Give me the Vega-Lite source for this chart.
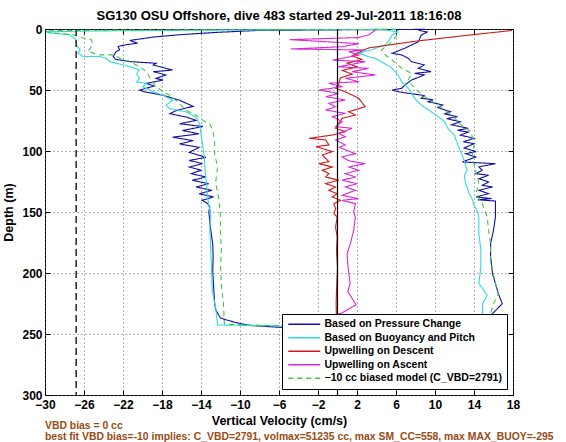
{
"$schema":"https://vega.github.io/schema/vega-lite/v6.json",
"width":468,"height":366,
"autosize":{"type":"none"},
"padding":{"left":45,"top":29,"right":53,"bottom":47},
"background":"white",
"title":{"text":"SG130 OSU Offshore, dive 483 started 29-Jul-2011 18:16:08","font":"Liberation Sans","fontSize":13,"fontWeight":"bold","color":"black","anchor":"middle","baseline":"alphabetic","offset":-10},
"config":{"view":{"stroke":"black","strokeWidth":1},
"axis":{"labelFont":"Liberation Sans","titleFont":"Liberation Sans","labelFontWeight":"bold","titleFontWeight":"bold","labelColor":"black","titleColor":"black","tickColor":"black","domain":false,"labelFontSize":12,"titleFontSize":12.5,"labelOverlap":false,"labelFlush":false}},
"datasets":{
"curves":[
{"s":"P","i":0,"v":9,"d":0.3},{"s":"P","i":1,"v":2,"d":0.6},{"s":"P","i":2,"v":-8,"d":1.1},{"s":"P","i":3,"v":-12.45,"d":2.8},{"s":"P","i":4,"v":-16.2,"d":4.7},{"s":"P","i":5,"v":-18.9,"d":6.6},{"s":"P","i":6,"v":-21.3,"d":9.4},{"s":"P","i":7,"v":-20.5,"d":11.6},{"s":"P","i":8,"v":-21.7,"d":12.9},{"s":"P","i":9,"v":-22.5,"d":14.3},{"s":"P","i":10,"v":-22.35,"d":17.1},{"s":"P","i":11,"v":-22.7,"d":18.5},{"s":"P","i":12,"v":-23.0,"d":22.6},{"s":"P","i":13,"v":-22.75,"d":24.8},{"s":"P","i":14,"v":-21.3,"d":26.7},{"s":"P","i":15,"v":-18.6,"d":28.1},{"s":"P","i":16,"v":-18.9,"d":29.5},{"s":"P","i":17,"v":-16.9,"d":33.6},{"s":"P","i":18,"v":-18.9,"d":35},{"s":"P","i":19,"v":-17.6,"d":37.7},{"s":"P","i":20,"v":-18.6,"d":40.5},{"s":"P","i":21,"v":-17.9,"d":41.9},{"s":"P","i":22,"v":-19.6,"d":44.6},{"s":"P","i":23,"v":-18.8,"d":46.8},{"s":"P","i":24,"v":-20.3,"d":50.1},{"s":"P","i":25,"v":-19.8,"d":51.5},{"s":"P","i":26,"v":-17.9,"d":54.3},{"s":"P","i":27,"v":-16.2,"d":58.4},{"s":"P","i":28,"v":-14.8,"d":63.4},{"s":"P","i":29,"v":-16.5,"d":66.7},{"s":"P","i":30,"v":-17.2,"d":69.4},{"s":"P","i":31,"v":-15.5,"d":72.2},{"s":"P","i":32,"v":-14.5,"d":74.9},{"s":"P","i":33,"v":-16.2,"d":77.7},{"s":"P","i":34,"v":-13.8,"d":79.9},{"s":"P","i":35,"v":-15.9,"d":83.2},{"s":"P","i":36,"v":-14.2,"d":85.9},{"s":"P","i":37,"v":-16.9,"d":88.7},{"s":"P","i":38,"v":-14.8,"d":91.5},{"s":"P","i":39,"v":-16.2,"d":94.2},{"s":"P","i":40,"v":-14.2,"d":97},{"s":"P","i":41,"v":-15.2,"d":101.1},{"s":"P","i":42,"v":-13.5,"d":105.2},{"s":"P","i":43,"v":-15.2,"d":107.7},{"s":"P","i":44,"v":-13.85,"d":110.4},{"s":"P","i":45,"v":-15.2,"d":113.1},{"s":"P","i":46,"v":-14.0,"d":115.8},{"s":"P","i":47,"v":-15.0,"d":118.6},{"s":"P","i":48,"v":-13.5,"d":121.3},{"s":"P","i":49,"v":-14.9,"d":124},{"s":"P","i":50,"v":-13.2,"d":126.8},{"s":"P","i":51,"v":-14.5,"d":129.5},{"s":"P","i":52,"v":-12.9,"d":132.2},{"s":"P","i":53,"v":-14.2,"d":135},{"s":"P","i":54,"v":-12.7,"d":137.7},{"s":"P","i":55,"v":-13.9,"d":140.4},{"s":"P","i":56,"v":-13.3,"d":143.2},{"s":"P","i":57,"v":-13.1,"d":145.9},{"s":"P","i":58,"v":-13.2,"d":150},{"s":"P","i":59,"v":-13.0,"d":165},{"s":"P","i":60,"v":-12.8,"d":176},{"s":"P","i":61,"v":-12.75,"d":187},{"s":"P","i":62,"v":-12.8,"d":198},{"s":"P","i":63,"v":-12.7,"d":211.5},{"s":"P","i":64,"v":-12.6,"d":225},{"s":"P","i":65,"v":-12.5,"d":230},{"s":"P","i":66,"v":-12.0,"d":237},{"s":"P","i":67,"v":-10.5,"d":240.5},{"s":"P","i":68,"v":-9,"d":243},{"s":"P","i":69,"v":-6,"d":244.5},{"s":"P","i":70,"v":-2,"d":245.5},{"s":"P","i":71,"v":8,"d":246},{"s":"P","i":72,"v":16,"d":245},{"s":"P","i":73,"v":16.5,"d":240},{"s":"P","i":74,"v":15.9,"d":233.3},{"s":"P","i":75,"v":16.9,"d":225.1},{"s":"P","i":76,"v":16.5,"d":217},{"s":"P","i":77,"v":16.2,"d":208.7},{"s":"P","i":78,"v":15.9,"d":200.5},{"s":"P","i":79,"v":15.7,"d":186.9},{"s":"P","i":80,"v":15.7,"d":176},{"s":"P","i":81,"v":16.0,"d":165},{"s":"P","i":82,"v":16.2,"d":154.1},{"s":"P","i":83,"v":16.2,"d":141},{"s":"P","i":84,"v":14.4,"d":140},{"s":"P","i":85,"v":15.8,"d":139},{"s":"P","i":86,"v":14.2,"d":137.7},{"s":"P","i":87,"v":15.5,"d":135},{"s":"P","i":88,"v":14.5,"d":132.2},{"s":"P","i":89,"v":15.9,"d":129.5},{"s":"P","i":90,"v":14.85,"d":128.1},{"s":"P","i":91,"v":15.5,"d":125.4},{"s":"P","i":92,"v":14.5,"d":122.7},{"s":"P","i":93,"v":15.5,"d":119.9},{"s":"P","i":94,"v":14.17,"d":118.6},{"s":"P","i":95,"v":14.85,"d":115.8},{"s":"P","i":96,"v":14.5,"d":113},{"s":"P","i":97,"v":16.2,"d":110.4},{"s":"P","i":98,"v":12.8,"d":109},{"s":"P","i":99,"v":14.17,"d":104.9},{"s":"P","i":100,"v":13.15,"d":102.2},{"s":"P","i":101,"v":14.2,"d":100.5},{"s":"P","i":102,"v":13.0,"d":97.5},{"s":"P","i":103,"v":14.0,"d":94},{"s":"P","i":104,"v":12.9,"d":92.4},{"s":"P","i":105,"v":14.0,"d":89.6},{"s":"P","i":106,"v":12.6,"d":87},{"s":"P","i":107,"v":13.4,"d":84.5},{"s":"P","i":108,"v":12.3,"d":83},{"s":"P","i":109,"v":13.4,"d":81.4},{"s":"P","i":110,"v":11.7,"d":78.5},{"s":"P","i":111,"v":12.6,"d":76},{"s":"P","i":112,"v":11.2,"d":73.5},{"s":"P","i":113,"v":12.3,"d":71.9},{"s":"P","i":114,"v":11.0,"d":69.5},{"s":"P","i":115,"v":11.6,"d":67.8},{"s":"P","i":116,"v":10.3,"d":64.5},{"s":"P","i":117,"v":10.8,"d":62.3},{"s":"P","i":118,"v":9.3,"d":59.6},{"s":"P","i":119,"v":9.8,"d":58},{"s":"P","i":120,"v":8.6,"d":56.8},{"s":"P","i":121,"v":8.9,"d":54.5},{"s":"P","i":122,"v":7.25,"d":52.7},{"s":"P","i":123,"v":6.2,"d":51.4},{"s":"P","i":124,"v":5.6,"d":50},{"s":"P","i":125,"v":6.6,"d":48.6},{"s":"P","i":126,"v":6.9,"d":45.9},{"s":"P","i":127,"v":7.6,"d":41.8},{"s":"P","i":128,"v":8.9,"d":37.7},{"s":"P","i":129,"v":7.9,"d":36.3},{"s":"P","i":130,"v":9.6,"d":35},{"s":"P","i":131,"v":8.3,"d":32.2},{"s":"P","i":132,"v":8.9,"d":29.5},{"s":"P","i":133,"v":7.6,"d":26.8},{"s":"P","i":134,"v":7.25,"d":24},{"s":"P","i":135,"v":6.6,"d":21.3},{"s":"P","i":136,"v":5.6,"d":19.9},{"s":"P","i":137,"v":6.9,"d":15.8},{"s":"P","i":138,"v":8.3,"d":10.4},{"s":"P","i":139,"v":8.6,"d":4.9},{"s":"P","i":140,"v":9.2,"d":2.5},{"s":"P","i":141,"v":8.3,"d":1.0},
{"s":"B","i":0,"v":5,"d":0.3},{"s":"B","i":1,"v":-5,"d":0.6},{"s":"B","i":2,"v":-15,"d":1.0},{"s":"B","i":3,"v":-25,"d":1.6},{"s":"B","i":4,"v":-29.9,"d":2.3},{"s":"B","i":5,"v":-29.5,"d":3.3},{"s":"B","i":6,"v":-27.5,"d":4.7},{"s":"B","i":7,"v":-26.8,"d":8.8},{"s":"B","i":8,"v":-26.8,"d":12.9},{"s":"B","i":9,"v":-26.4,"d":17.1},{"s":"B","i":10,"v":-26.6,"d":19.8},{"s":"B","i":11,"v":-26.1,"d":22.6},{"s":"B","i":12,"v":-24.4,"d":22.6},{"s":"B","i":13,"v":-23.7,"d":24},{"s":"B","i":14,"v":-23.4,"d":26.7},{"s":"B","i":15,"v":-22.7,"d":28.1},{"s":"B","i":16,"v":-21.3,"d":30.9},{"s":"B","i":17,"v":-20.3,"d":33.6},{"s":"B","i":18,"v":-20.6,"d":36.4},{"s":"B","i":19,"v":-20.3,"d":40.5},{"s":"B","i":20,"v":-20.6,"d":43.3},{"s":"B","i":21,"v":-19.6,"d":44.6},{"s":"B","i":22,"v":-19.95,"d":47.4},{"s":"B","i":23,"v":-18.9,"d":51.5},{"s":"B","i":24,"v":-17.9,"d":54.3},{"s":"B","i":25,"v":-16.9,"d":58.4},{"s":"B","i":26,"v":-17.6,"d":62.5},{"s":"B","i":27,"v":-17.2,"d":65.3},{"s":"B","i":28,"v":-15.5,"d":68},{"s":"B","i":29,"v":-14.5,"d":72.2},{"s":"B","i":30,"v":-14.15,"d":77.7},{"s":"B","i":31,"v":-14.0,"d":85.9},{"s":"B","i":32,"v":-13.8,"d":97},{"s":"B","i":33,"v":-13.65,"d":105.2},{"s":"B","i":34,"v":-13.6,"d":115},{"s":"B","i":35,"v":-13.45,"d":125},{"s":"B","i":36,"v":-13.35,"d":135},{"s":"B","i":37,"v":-13.2,"d":145},{"s":"B","i":38,"v":-13.0,"d":150},{"s":"B","i":39,"v":-13.1,"d":165},{"s":"B","i":40,"v":-13.0,"d":180},{"s":"B","i":41,"v":-12.9,"d":200},{"s":"B","i":42,"v":-12.85,"d":215},{"s":"B","i":43,"v":-12.5,"d":228},{"s":"B","i":44,"v":-12.3,"d":242.6},{"s":"B","i":45,"v":-5,"d":243.5},{"s":"B","i":46,"v":5,"d":244},{"s":"B","i":47,"v":14.85,"d":244},{"s":"B","i":48,"v":14.85,"d":233.3},{"s":"B","i":49,"v":14.9,"d":225},{"s":"B","i":50,"v":15.35,"d":218.3},{"s":"B","i":51,"v":15.0,"d":214.2},{"s":"B","i":52,"v":14.5,"d":208.7},{"s":"B","i":53,"v":14.7,"d":195.1},{"s":"B","i":54,"v":14.7,"d":181.4},{"s":"B","i":55,"v":14.5,"d":167.8},{"s":"B","i":56,"v":14.5,"d":154.1},{"s":"B","i":57,"v":14.3,"d":148.6},{"s":"B","i":58,"v":14.0,"d":144.5},{"s":"B","i":59,"v":13.8,"d":139.1},{"s":"B","i":60,"v":13.5,"d":135},{"s":"B","i":61,"v":13.3,"d":130},{"s":"B","i":62,"v":13.15,"d":126.8},{"s":"B","i":63,"v":13.0,"d":120},{"s":"B","i":64,"v":13.3,"d":115.8},{"s":"B","i":65,"v":13.0,"d":107.7},{"s":"B","i":66,"v":12.6,"d":100},{"s":"B","i":67,"v":12.2,"d":92},{"s":"B","i":68,"v":12.0,"d":87},{"s":"B","i":69,"v":11.3,"d":81.4},{"s":"B","i":70,"v":11.0,"d":76},{"s":"B","i":71,"v":10.2,"d":71},{"s":"B","i":72,"v":9.6,"d":67.8},{"s":"B","i":73,"v":8.6,"d":62.3},{"s":"B","i":74,"v":7.9,"d":56.8},{"s":"B","i":75,"v":7.25,"d":48.6},{"s":"B","i":76,"v":6.6,"d":43.2},{"s":"B","i":77,"v":6.2,"d":37.7},{"s":"B","i":78,"v":5.6,"d":32.2},{"s":"B","i":79,"v":4.5,"d":26.8},{"s":"B","i":80,"v":3.9,"d":24},{"s":"B","i":81,"v":3.2,"d":22.7},{"s":"B","i":82,"v":2.2,"d":19.9},{"s":"B","i":83,"v":3.5,"d":17},{"s":"B","i":84,"v":4.9,"d":13.1},{"s":"B","i":85,"v":5.3,"d":9},{"s":"B","i":86,"v":5.6,"d":4.9},{"s":"B","i":87,"v":6.2,"d":2.5},{"s":"B","i":88,"v":4.9,"d":0.8},
{"s":"D","i":0,"v":17.9,"d":1.2},{"s":"D","i":1,"v":13.5,"d":5},{"s":"D","i":2,"v":8,"d":10},{"s":"D","i":3,"v":3.2,"d":15.5},{"s":"D","i":4,"v":2.5,"d":18},{"s":"D","i":5,"v":1.5,"d":22},{"s":"D","i":6,"v":2.5,"d":25},{"s":"D","i":7,"v":1.0,"d":28},{"s":"D","i":8,"v":2.0,"d":31},{"s":"D","i":9,"v":0.5,"d":34},{"s":"D","i":10,"v":1.5,"d":37},{"s":"D","i":11,"v":0.3,"d":40},{"s":"D","i":12,"v":0.14,"d":44.5},{"s":"D","i":13,"v":-0.2,"d":48.6},{"s":"D","i":14,"v":0.8,"d":51.4},{"s":"D","i":15,"v":2.17,"d":56.8},{"s":"D","i":16,"v":2.85,"d":63.7},{"s":"D","i":17,"v":1.15,"d":67.8},{"s":"D","i":18,"v":1.83,"d":70.5},{"s":"D","i":19,"v":0.47,"d":73.2},{"s":"D","i":20,"v":0.14,"d":77.3},{"s":"D","i":21,"v":-0.2,"d":81.4},{"s":"D","i":22,"v":0.8,"d":84.2},{"s":"D","i":23,"v":-0.54,"d":86.9},{"s":"D","i":24,"v":-2.9,"d":89.6},{"s":"D","i":25,"v":-1.2,"d":91},{"s":"D","i":26,"v":-0.88,"d":95.1},{"s":"D","i":27,"v":-2.2,"d":96.4},{"s":"D","i":28,"v":-0.54,"d":100.5},{"s":"D","i":29,"v":-1.56,"d":103.3},{"s":"D","i":30,"v":-0.88,"d":108.7},{"s":"D","i":31,"v":-1.9,"d":110.4},{"s":"D","i":32,"v":-0.54,"d":113.1},{"s":"D","i":33,"v":-1.56,"d":115.8},{"s":"D","i":34,"v":-0.88,"d":118.6},{"s":"D","i":35,"v":-1.22,"d":121.3},{"s":"D","i":36,"v":0.14,"d":124},{"s":"D","i":37,"v":-1.22,"d":126.8},{"s":"D","i":38,"v":-0.2,"d":129.5},{"s":"D","i":39,"v":-0.88,"d":132.2},{"s":"D","i":40,"v":-0.03,"d":135},{"s":"D","i":41,"v":-0.54,"d":137.7},{"s":"D","i":42,"v":0.3,"d":140.4},{"s":"D","i":43,"v":-0.37,"d":143.2},{"s":"D","i":44,"v":-0.2,"d":147.3},{"s":"D","i":45,"v":-0.37,"d":151.4},{"s":"D","i":46,"v":-0.03,"d":154.1},{"s":"D","i":47,"v":-0.2,"d":162.3},{"s":"D","i":48,"v":-0.03,"d":170.5},{"s":"D","i":49,"v":-0.1,"d":181.4},{"s":"D","i":50,"v":0.0,"d":195.1},{"s":"D","i":51,"v":-0.1,"d":214.2},{"s":"D","i":52,"v":-0.14,"d":225},{"s":"D","i":53,"v":-0.1,"d":240},
{"s":"A","i":0,"v":-4,"d":242.6},{"s":"A","i":1,"v":0.4,"d":233},{"s":"A","i":2,"v":1.9,"d":226},{"s":"A","i":3,"v":1.05,"d":215},{"s":"A","i":4,"v":1.3,"d":208.7},{"s":"A","i":5,"v":1.08,"d":195.1},{"s":"A","i":6,"v":0.98,"d":184.2},{"s":"A","i":7,"v":1.32,"d":176},{"s":"A","i":8,"v":1.66,"d":165},{"s":"A","i":9,"v":1.83,"d":154.1},{"s":"A","i":10,"v":1.66,"d":150},{"s":"A","i":11,"v":1.83,"d":143.2},{"s":"A","i":12,"v":0.47,"d":140.4},{"s":"A","i":13,"v":2.17,"d":139.1},{"s":"A","i":14,"v":0.47,"d":136.3},{"s":"A","i":15,"v":1.83,"d":132.2},{"s":"A","i":16,"v":0.8,"d":129.5},{"s":"A","i":17,"v":2.0,"d":126.8},{"s":"A","i":18,"v":0.47,"d":124},{"s":"A","i":19,"v":1.83,"d":121.3},{"s":"A","i":20,"v":0.8,"d":118.6},{"s":"A","i":21,"v":2.17,"d":115.8},{"s":"A","i":22,"v":1.15,"d":113.1},{"s":"A","i":23,"v":2.85,"d":110.4},{"s":"A","i":24,"v":1.15,"d":108},{"s":"A","i":25,"v":0.47,"d":104.9},{"s":"A","i":26,"v":1.83,"d":102.2},{"s":"A","i":27,"v":0.8,"d":99},{"s":"A","i":28,"v":0.2,"d":97},{"s":"A","i":29,"v":0.8,"d":95.1},{"s":"A","i":30,"v":-0.2,"d":91},{"s":"A","i":31,"v":0.8,"d":88.3},{"s":"A","i":32,"v":0.1,"d":85.5},{"s":"A","i":33,"v":1.5,"d":81.4},{"s":"A","i":34,"v":-0.2,"d":80},{"s":"A","i":35,"v":0.5,"d":76},{"s":"A","i":36,"v":-0.5,"d":71.9},{"s":"A","i":37,"v":0.8,"d":69.1},{"s":"A","i":38,"v":-1.2,"d":66.4},{"s":"A","i":39,"v":-0.2,"d":63.7},{"s":"A","i":40,"v":-0.9,"d":60.9},{"s":"A","i":41,"v":0.8,"d":58.2},{"s":"A","i":42,"v":-1.2,"d":55.5},{"s":"A","i":43,"v":0.1,"d":52.7},{"s":"A","i":44,"v":-1.9,"d":50},{"s":"A","i":45,"v":0.5,"d":47.3},{"s":"A","i":46,"v":-0.9,"d":44.5},{"s":"A","i":47,"v":2.2,"d":43.2},{"s":"A","i":48,"v":0.8,"d":40.4},{"s":"A","i":49,"v":3.9,"d":37.7},{"s":"A","i":50,"v":1.5,"d":35},{"s":"A","i":51,"v":3.2,"d":32.2},{"s":"A","i":52,"v":0.0,"d":31},{"s":"A","i":53,"v":1.15,"d":29.5},{"s":"A","i":54,"v":2.85,"d":26.8},{"s":"A","i":55,"v":-0.5,"d":25.5},{"s":"A","i":56,"v":0.5,"d":24},{"s":"A","i":57,"v":2.2,"d":21.3},{"s":"A","i":58,"v":1.15,"d":18.6},{"s":"A","i":59,"v":2.85,"d":17.2},{"s":"A","i":60,"v":-4.8,"d":16.4},{"s":"A","i":61,"v":0.5,"d":14.5},{"s":"A","i":62,"v":2.2,"d":12},{"s":"A","i":63,"v":-4.9,"d":8.7},{"s":"A","i":64,"v":2.2,"d":7},{"s":"A","i":65,"v":3.2,"d":4.9},{"s":"A","i":66,"v":3.9,"d":0.8},
{"s":"M","i":0,"v":6,"d":0.3},{"s":"M","i":1,"v":-10,"d":0.6},{"s":"M","i":2,"v":-25,"d":1.0},{"s":"M","i":3,"v":-29.96,"d":1.5},{"s":"M","i":4,"v":-29.5,"d":3},{"s":"M","i":5,"v":-27.1,"d":4.7},{"s":"M","i":6,"v":-26.1,"d":7.4},{"s":"M","i":7,"v":-25.25,"d":8.8},{"s":"M","i":8,"v":-25.1,"d":12.9},{"s":"M","i":9,"v":-25.6,"d":18.5},{"s":"M","i":10,"v":-24.4,"d":21.2},{"s":"M","i":11,"v":-23.0,"d":21.2},{"s":"M","i":12,"v":-22.3,"d":24},{"s":"M","i":13,"v":-21.3,"d":26.7},{"s":"M","i":14,"v":-20.3,"d":30.9},{"s":"M","i":15,"v":-19.6,"d":35},{"s":"M","i":16,"v":-19.3,"d":39.1},{"s":"M","i":17,"v":-18.9,"d":44.6},{"s":"M","i":18,"v":-17.9,"d":51.5},{"s":"M","i":19,"v":-17.2,"d":54.3},{"s":"M","i":20,"v":-16.2,"d":61.2},{"s":"M","i":21,"v":-15.5,"d":66.7},{"s":"M","i":22,"v":-14.5,"d":70.8},{"s":"M","i":23,"v":-13.8,"d":74.9},{"s":"M","i":24,"v":-13.1,"d":77.7},{"s":"M","i":25,"v":-12.8,"d":83.2},{"s":"M","i":26,"v":-12.6,"d":91.5},{"s":"M","i":27,"v":-12.6,"d":102.5},{"s":"M","i":28,"v":-12.3,"d":113},{"s":"M","i":29,"v":-12.5,"d":126},{"s":"M","i":30,"v":-12.15,"d":140},{"s":"M","i":31,"v":-12.0,"d":154},{"s":"M","i":32,"v":-12.0,"d":167},{"s":"M","i":33,"v":-11.9,"d":181},{"s":"M","i":34,"v":-12.0,"d":195},{"s":"M","i":35,"v":-11.9,"d":211},{"s":"M","i":36,"v":-11.7,"d":225},{"s":"M","i":37,"v":-11.6,"d":242},{"s":"M","i":38,"v":-5,"d":243.5},{"s":"M","i":39,"v":5,"d":244},{"s":"M","i":40,"v":16.0,"d":244},{"s":"M","i":41,"v":15.7,"d":233.3},{"s":"M","i":42,"v":16.0,"d":225.1},{"s":"M","i":43,"v":16.5,"d":216.9},{"s":"M","i":44,"v":16.2,"d":208.7},{"s":"M","i":45,"v":15.9,"d":197.8},{"s":"M","i":46,"v":15.7,"d":186.9},{"s":"M","i":47,"v":15.7,"d":176},{"s":"M","i":48,"v":15.5,"d":165},{"s":"M","i":49,"v":15.35,"d":154.1},{"s":"M","i":50,"v":14.85,"d":143.2},{"s":"M","i":51,"v":14.17,"d":135},{"s":"M","i":52,"v":14.5,"d":126.8},{"s":"M","i":53,"v":14.17,"d":115.8},{"s":"M","i":54,"v":13.8,"d":104.9},{"s":"M","i":55,"v":14.0,"d":95},{"s":"M","i":56,"v":13.7,"d":84.2},{"s":"M","i":57,"v":12.7,"d":78.7},{"s":"M","i":58,"v":11.7,"d":70.5},{"s":"M","i":59,"v":11.0,"d":66.4},{"s":"M","i":60,"v":10.3,"d":62.3},{"s":"M","i":61,"v":8.95,"d":55.5},{"s":"M","i":62,"v":7.9,"d":48.6},{"s":"M","i":63,"v":7.25,"d":41.8},{"s":"M","i":64,"v":7.6,"d":36.3},{"s":"M","i":65,"v":6.6,"d":32.2},{"s":"M","i":66,"v":5.6,"d":25.4},{"s":"M","i":67,"v":4.9,"d":21.3},{"s":"M","i":68,"v":4.5,"d":17.2},{"s":"M","i":69,"v":5.6,"d":10.4},{"s":"M","i":70,"v":6.2,"d":3.6},{"s":"M","i":71,"v":6.2,"d":0.8}
],
"refs":[{"v":-26.8,"k":"dashed"},{"v":0,"k":"solid"}],
"notes":[{"t":"VBD bias = 0 cc\nbest fit VBD bias=-10 implies: C_VBD=2791, volmax=51235 cc, max SM_CC=558, max MAX_BUOY=-295"}]
},
"layer":[
{"data":{"name":"curves"},
"mark":{"type":"line","strokeWidth":1.1},
"encoding":{
"x":{"field":"v","type":"quantitative","scale":{"domain":[-30,18],"nice":false,"zero":false},
"axis":{"orient":"bottom","values":[-30,-26,-22,-18,-14,-10,-6,-2,2,6,10,14,18],"title":"Vertical Velocity (cm/s)","grid":true,"gridColor":"#666","gridDash":[1,3],"tickSize":-5,"labelPadding":9,"titlePadding":4}},
"y":{"field":"d","type":"quantitative","scale":{"domain":[0,300],"reverse":true,"nice":false,"zero":false},
"axis":{"orient":"left","values":[0,50,100,150,200,250,300],"title":"Depth (m)","grid":true,"gridColor":"#666","gridDash":[1,3],"tickSize":-5,"labelPadding":8,"titlePadding":6}},
"color":{"field":"s","type":"nominal","scale":{"domain":["P","B","D","A","M"],"range":["#1010A8","#30DCDC","#D01818","#D828D8","#40C840"]},
"legend":{"title":null,"orient":"bottom-right","offset":6,"fillColor":"white","strokeColor":"black","padding":5,"labelFont":"Liberation Sans","labelFontSize":10.5,"labelFontWeight":"bold","labelColor":"black","labelLimit":300,"symbolType":"M-4,0H4","symbolSize":64,"symbolStrokeWidth":1.3,"symbolOffset":12,"labelOffset":15,"rowPadding":2.5,"labelExpr":"{'P':'Based on Pressure Change','B':'Based on Buoyancy and Pitch','D':'Upwelling on Descent','A':'Upwelling on Ascent','M':'−10 cc biased model (C_VBD=2791)'}[datum.label]"}},
"strokeDash":{"field":"s","type":"nominal","scale":{"domain":["P","B","D","A","M"],"range":[[1,0],[1,0],[1,0],[1,0],[5,4]]},
"legend":{"title":null,"orient":"bottom-right","offset":6,"fillColor":"white","strokeColor":"black","padding":5,"labelFont":"Liberation Sans","labelFontSize":10.5,"labelFontWeight":"bold","labelColor":"black","labelLimit":300,"symbolType":"M-4,0H4","symbolSize":64,"symbolStrokeWidth":1.3,"symbolOffset":12,"labelOffset":15,"rowPadding":2.5,"labelExpr":"{'P':'Based on Pressure Change','B':'Based on Buoyancy and Pitch','D':'Upwelling on Descent','A':'Upwelling on Ascent','M':'−10 cc biased model (C_VBD=2791)'}[datum.label]"}},
"order":{"field":"i","type":"quantitative"}}},
{"data":{"name":"refs"},
"transform":[{"filter":"datum.k == 'dashed'"}],
"mark":{"type":"rule","color":"#333333","strokeWidth":1.6,"strokeDash":[7,4]},
"encoding":{"x":{"field":"v","type":"quantitative","scale":{"domain":[-30,18],"nice":false,"zero":false},
"axis":{"orient":"top","values":[-30,-26,-22,-18,-14,-10,-6,-2,2,6,10,14,18],"labels":false,"title":null,"grid":false,"tickSize":-5,"minExtent":0,"maxExtent":0}}}},
{"data":{"name":"refs"},
"transform":[{"filter":"datum.k == 'solid'"}],
"mark":{"type":"rule","color":"black","strokeWidth":1.2},
"encoding":{"x":{"field":"v","type":"quantitative","scale":{"domain":[-30,18],"nice":false,"zero":false},"axis":null}}},
{"data":{"name":"notes"},
"mark":{"type":"text","align":"left","baseline":"top","lineBreak":"\n","lineHeight":11.5,"font":"Liberation Sans","fontSize":10.4,"fontWeight":"bold","color":"#9A4A12"},
"encoding":{"text":{"field":"t"},
"x":{"datum":-30,"type":"quantitative","scale":{"domain":[-30,18],"nice":false,"zero":false},"axis":null},
"y":{"datum":321,"type":"quantitative","scale":{"domain":[0,300],"reverse":true,"nice":false,"zero":false},
"axis":{"orient":"right","values":[0,50,100,150,200,250,300],"labels":false,"title":null,"grid":false,"tickSize":-5,"minExtent":0,"maxExtent":0}}}}
],
"resolve":{"axis":{"x":"independent","y":"independent"}}
}
